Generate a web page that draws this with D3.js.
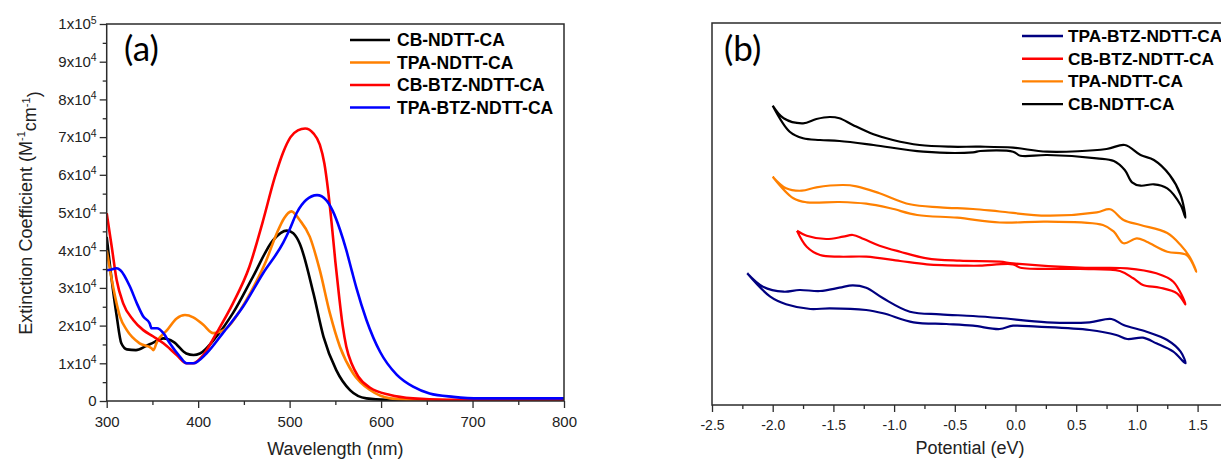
<!DOCTYPE html>
<html>
<head>
<meta charset="utf-8">
<script src="https://cdn.jsdelivr.net/npm/d3@7"></script>
<style>
  body { margin: 0; background: #fff; }
  svg { display: block; font-family: "Liberation Sans", Arial, sans-serif; }
</style>
</head>
<body>
<svg id="chart" width="1221" height="459"></svg>
<script>
// ---------- panel (a): extinction spectra, eps in units of 1e4 M^-1 cm^-1 ----------
const cbNdttWl = [300, 305, 311, 316, 322, 332, 343, 351, 362, 373, 387, 395, 402, 420, 438, 460, 482, 497, 504, 511, 526, 537, 551, 566, 584, 606, 650, 800];
const cbNdttEps = [4.35, 3.3, 2.24, 1.53, 1.37, 1.35, 1.46, 1.55, 1.66, 1.57, 1.26, 1.22, 1.26, 1.71, 2.33, 3.30, 4.27, 4.52, 4.45, 4.18, 2.86, 1.71, 0.82, 0.29, 0.07, 0.03, 0.02, 0.02];

const tpaNdttWl = [300, 307, 314.5, 322, 336, 349, 351, 355, 366, 376.5, 385.6, 394.6, 405.6, 416.5, 431, 446, 460, 474, 486, 494, 502, 511, 522, 533, 544, 555, 569.5, 588, 610, 635, 700, 800];
const tpaNdttEps = [4.0, 3.03, 2.24, 1.88, 1.53, 1.40, 1.35, 1.57, 1.88, 2.19, 2.28, 2.22, 2.02, 1.80, 1.93, 2.41, 3.0, 3.7, 4.45, 4.85, 5.03, 4.80, 4.36, 3.47, 2.33, 1.44, 0.73, 0.29, 0.07, 0.03, 0.02, 0.02];

const cbBtzWl = [300, 305.5, 310.9, 318, 329, 340, 351, 362, 376.5, 387.4, 394.6, 405.6, 420, 438, 456, 470, 484, 493, 501, 509, 517, 526, 533, 538, 542, 546, 550, 554, 558, 562, 568, 575, 588, 610, 635, 672, 800];
const cbBtzEps = [4.98, 4.09, 3.21, 2.59, 2.15, 1.88, 1.71, 1.53, 1.22, 1.0, 1.0, 1.22, 1.80, 2.59, 3.56, 4.7, 5.95, 6.6, 7.0, 7.18, 7.23, 7.10, 6.80, 6.30, 5.6, 4.7, 3.7, 2.8, 2.0, 1.44, 0.98, 0.65, 0.35, 0.16, 0.07, 0.03, 0.02];

const tpaBtzWl = [300, 304, 311, 315, 325.5, 333, 340, 347, 349, 355, 362, 369, 380, 387.4, 394.6, 409, 427, 449, 471, 493, 500, 508, 518, 530, 540, 547, 555, 562, 568, 573, 584, 599, 617, 635, 653, 679, 708, 800];
const tpaBtzEps = [3.47, 3.48, 3.52, 3.47, 3.03, 2.59, 2.24, 2.06, 1.93, 1.93, 1.80, 1.53, 1.18, 1.0, 1.0, 1.26, 1.80, 2.50, 3.39, 4.2, 4.55, 5.0, 5.33, 5.46, 5.33, 5.05, 4.55, 4.0, 3.45, 3.0, 2.15, 1.3, 0.7, 0.38, 0.20, 0.11, 0.07, 0.07];

const specNames = ['CB-NDTT-CA', 'TPA-NDTT-CA', 'CB-BTZ-NDTT-CA', 'TPA-BTZ-NDTT-CA'];
const specColors = ['#000000', '#ff8000', '#ff0000', '#0000ff'];
const wlTicks = [300, 400, 500, 600, 700, 800];
const epsTicks = [0, 1, 2, 3, 4, 5, 6, 7, 8, 9, 10];

// ---------- panel (b): cyclic voltammograms, current in arbitrary units (loop: forward then back) ----------
const cvCbNdttV = [-2.00, -1.91, -1.75, -1.64, -1.53, -1.45, -1.34, -1.17, -1.01, -0.79, -0.54, -0.29, -0.02, 0.26, 0.75, 0.90, 1.03, 1.14, 1.27, 1.36, 1.40, 1.36, 1.25, 1.14, 1.03, 0.96, 0.90, 0.81, 0.67, 0.26, 0.04, -0.02, -0.29, -0.35, -0.76, -1.17, -1.45, -1.61, -1.75, -1.86, -2.00];
const cvCbNdttI = [299.3, 286.7, 281.7, 286, 288, 286.7, 280, 270.7, 265, 260, 258.3, 258.3, 257.3, 253.3, 256, 260, 250, 245, 230, 210, 187.3, 200, 216.7, 220.7, 219.3, 222.7, 235, 244, 246.7, 250, 249.3, 253.3, 254, 252.7, 253.3, 260, 264, 265, 266.7, 273.3, 299.3];

const cvTpaNdttV = [-2.00, -1.89, -1.76, -1.64, -1.42, -1.31, -1.12, -0.87, -0.62, -0.35, -0.13, 0.26, 0.67, 0.78, 0.89, 1.03, 1.25, 1.36, 1.44, 1.49, 1.41, 1.25, 1.08, 1.00, 0.89, 0.81, 0.72, 0.26, -0.13, -0.48, -0.81, -1.03, -1.23, -1.45, -1.72, -1.83, -2.00];
const cvTpaNdttI = [228.3, 216.7, 214.3, 217.7, 220, 218.7, 211.7, 200.7, 197.7, 196, 193.5, 189.3, 192.7, 195.7, 185, 180, 172, 160, 147, 133.3, 150, 153.3, 163.3, 166.7, 161.7, 173.3, 180, 183.3, 182.5, 187.3, 190, 196.7, 201.3, 203, 202.7, 206.7, 228.3];

const cvCbBtzV = [-1.80, -1.72, -1.56, -1.42, -1.34, -1.25, -1.12, -0.95, -0.73, -0.46, -0.13, -0.02, 0.53, 0.92, 1.16, 1.30, 1.40, 1.33, 1.19, 1.05, 0.97, 0.86, 0.53, 0.04, -0.02, -0.29, -0.40, -0.73, -0.95, -1.23, -1.45, -1.61, -1.72, -1.80];
const cvCbBtzI = [174.3, 169.3, 166, 168.3, 170, 166, 159.3, 153.3, 146.7, 144.3, 143.3, 141.7, 137.3, 136.7, 131.7, 123.3, 100.7, 111.7, 117.3, 120, 126.7, 134, 136, 137.3, 140.7, 139.3, 139.3, 140.7, 144, 148.3, 148.3, 150, 158.3, 174.3];

const cvTpaBtzV = [-2.21, -2.08, -1.91, -1.78, -1.61, -1.45, -1.34, -1.23, -1.09, -0.87, -0.62, -0.35, -0.13, 0.26, 0.61, 0.79, 0.89, 1.08, 1.25, 1.36, 1.40, 1.30, 1.16, 1.05, 0.92, 0.83, 0.61, 0.18, -0.02, -0.13, -0.35, -0.57, -0.84, -1.09, -1.23, -1.53, -1.69, -1.89, -2.02, -2.21];
const cvTpaBtzI = [131.7, 118.3, 113.3, 115, 114, 117.3, 119.7, 117.3, 106.7, 93.3, 90.7, 89, 87, 82.7, 82.7, 86, 80, 73.3, 65, 53.3, 41.7, 53.3, 61.7, 67.3, 66, 70, 75, 78.3, 79.3, 76, 79.3, 81, 82.7, 91.7, 95, 96.7, 96, 100.7, 108.3, 131.7];

const cvNames = ['TPA-BTZ-NDTT-CA', 'CB-BTZ-NDTT-CA', 'TPA-NDTT-CA', 'CB-NDTT-CA'];
const cvColors = ['#000080', '#ff0000', '#ff8000', '#000000'];
const potTicks = [-2.5, -2.0, -1.5, -1.0, -0.5, 0.0, 0.5, 1.0, 1.5];

const svg = d3.select('#chart');
const axisColor = '#2b2b2b';

const styleAxis = (size) => (g) => {
  g.select('.domain').remove();
  g.selectAll('.tick line').attr('stroke', axisColor).attr('stroke-width', 1.3);
  g.selectAll('.tick text').attr('fill', '#222').attr('font-size', size);
};

// ===== panel (a) =====
const a = { l: 106.7, r: 564, t: 24, b: 401 };
const xA = d3.scaleLinear().domain([300, 800]).range([a.l, a.r]);
const yA = d3.scaleLinear().domain([0, 10]).range([a.b, a.t]);

// minor ticks
svg.append('g').attr('transform', 'translate(0,' + a.b + ')')
  .call(d3.axisBottom(xA).tickValues(d3.range(350, 800, 100)).tickSize(4).tickFormat(''))
  .call(styleAxis(15));
svg.append('g').attr('transform', 'translate(' + a.l + ',0)')
  .call(d3.axisLeft(yA).tickValues(d3.range(0.5, 10, 1)).tickSize(4).tickFormat(''))
  .call(styleAxis(15));
// major ticks
svg.append('g').attr('transform', 'translate(0,' + a.b + ')')
  .call(d3.axisBottom(xA).tickValues(wlTicks).tickSize(7).tickPadding(8).tickFormat(d3.format('d')))
  .call(styleAxis(15));
svg.append('g').attr('transform', 'translate(' + a.l + ',0)')
  .call(d3.axisLeft(yA).tickValues(epsTicks).tickSize(7).tickPadding(3).tickFormat(''))
  .call(styleAxis(15))
  .selectAll('.tick text')
  .each(function(d) {
    const t = d3.select(this);
    t.text(null);
    if (d === 0) { t.text('0'); return; }
    const mant = d === 10 ? 1 : d, exp = d === 10 ? 5 : 4;
    t.append('tspan').text(mant + 'x10');
    t.append('tspan').attr('font-size', 10.5).attr('dy', '-0.55em').text(exp);
  });

const specLine = d3.line().x((d) => xA(d[0])).y((d) => yA(d[1])).curve(d3.curveMonotoneX);
const specData = [
  d3.zip(cbNdttWl, cbNdttEps),
  d3.zip(tpaNdttWl, tpaNdttEps),
  d3.zip(cbBtzWl, cbBtzEps),
  d3.zip(tpaBtzWl, tpaBtzEps)
];
svg.append('defs').append('clipPath').attr('id', 'clipA')
  .append('rect').attr('x', a.l).attr('y', a.t).attr('width', a.r - a.l).attr('height', a.b - a.t);
svg.append('g').attr('clip-path', 'url(#clipA)')
  .selectAll('path').data(specData).enter().append('path')
  .attr('d', specLine)
  .attr('fill', 'none')
  .attr('stroke', (d, i) => specColors[i])
  .attr('stroke-width', 2.6)
  .attr('stroke-linejoin', 'round');

svg.append('rect')
  .attr('x', a.l).attr('y', a.t).attr('width', a.r - a.l).attr('height', a.b - a.t)
  .attr('fill', 'none').attr('stroke', axisColor).attr('stroke-width', 1.5);

svg.append('text').attr('x', 124).attr('y', 61)
  .attr('font-family', 'Lato, "Open Sans", sans-serif').attr('font-size', 35).text('(a)');

const legA = svg.append('g').selectAll('g').data(specNames).enter().append('g')
  .attr('transform', (d, i) => 'translate(350,' + (40 + i * 22.5) + ')');
legA.append('line').attr('x1', 0).attr('x2', 40)
  .attr('stroke', (d, i) => specColors[i]).attr('stroke-width', 2.6);
legA.append('text').attr('x', 47).attr('y', 6)
  .attr('font-size', 17.5).attr('font-weight', 'bold').text((d) => d);

svg.append('text').attr('x', a.l + (a.r - a.l) / 2).attr('y', 455)
  .attr('text-anchor', 'middle').attr('font-size', 18).attr('fill', '#222').text('Wavelength (nm)');
const yLab = svg.append('text')
  .attr('transform', 'translate(32,213) rotate(-90)')
  .attr('text-anchor', 'middle').attr('font-size', 18).attr('fill', '#222');
yLab.append('tspan').text('Extinction Coefficient (M');
yLab.append('tspan').attr('font-size', 11).attr('dy', '-0.6em').text('-1');
yLab.append('tspan').attr('dy', '0.6em').text('cm');
yLab.append('tspan').attr('font-size', 11).attr('dy', '-0.6em').text('-1');
yLab.append('tspan').attr('dy', '0.6em').text(')');

// ===== panel (b) =====
const b = { l: 712, r: 1258.3, t: 23, b: 405 };
const xB = d3.scaleLinear().domain([-2.5, 2.0]).range([b.l, b.r]);
const yB = d3.scaleLinear().domain([0, 382]).range([b.b, b.t]);
const potFormat = (d) => d.toFixed(1);  // plain hyphen minus, as in the figure

svg.append('g').attr('transform', 'translate(0,' + b.b + ')')
  .call(d3.axisBottom(xB).tickValues(d3.range(-2.25, 2.0, 0.5)).tickSize(4).tickFormat(''))
  .call(styleAxis(14));
svg.append('g').attr('transform', 'translate(0,' + b.b + ')')
  .call(d3.axisBottom(xB).tickValues(potTicks).tickSize(7).tickPadding(8).tickFormat(potFormat))
  .call(styleAxis(14));

const cvLine = d3.line().x((d) => xB(d[0])).y((d) => yB(d[1])).curve(d3.curveCatmullRom.alpha(0.5));
const cvData = [
  d3.zip(cvTpaBtzV, cvTpaBtzI),
  d3.zip(cvCbBtzV, cvCbBtzI),
  d3.zip(cvTpaNdttV, cvTpaNdttI),
  d3.zip(cvCbNdttV, cvCbNdttI)
];
svg.append('g').selectAll('path').data(cvData).enter().append('path')
  .attr('d', cvLine)
  .attr('fill', 'none')
  .attr('stroke', (d, i) => cvColors[i])
  .attr('stroke-width', 2.2)
  .attr('stroke-linejoin', 'round');

svg.append('rect')
  .attr('x', b.l).attr('y', b.t).attr('width', b.r - b.l).attr('height', b.b - b.t)
  .attr('fill', 'none').attr('stroke', axisColor).attr('stroke-width', 1.5);

svg.append('text').attr('x', 724).attr('y', 61)
  .attr('font-family', 'Lato, "Open Sans", sans-serif').attr('font-size', 35).text('(b)');

const legB = svg.append('g').selectAll('g').data(cvNames).enter().append('g')
  .attr('transform', (d, i) => 'translate(1022,' + (36 + i * 22.7) + ')');
legB.append('line').attr('x1', 0).attr('x2', 41)
  .attr('stroke', (d, i) => cvColors[i]).attr('stroke-width', 2.4);
legB.append('text').attr('x', 46).attr('y', 6)
  .attr('font-size', 17.3).attr('font-weight', 'bold').text((d) => d);

svg.append('text').attr('x', 970).attr('y', 454)
  .attr('text-anchor', 'middle').attr('font-size', 18).attr('fill', '#222').text('Potential (eV)');
</script>
</body>
</html>
